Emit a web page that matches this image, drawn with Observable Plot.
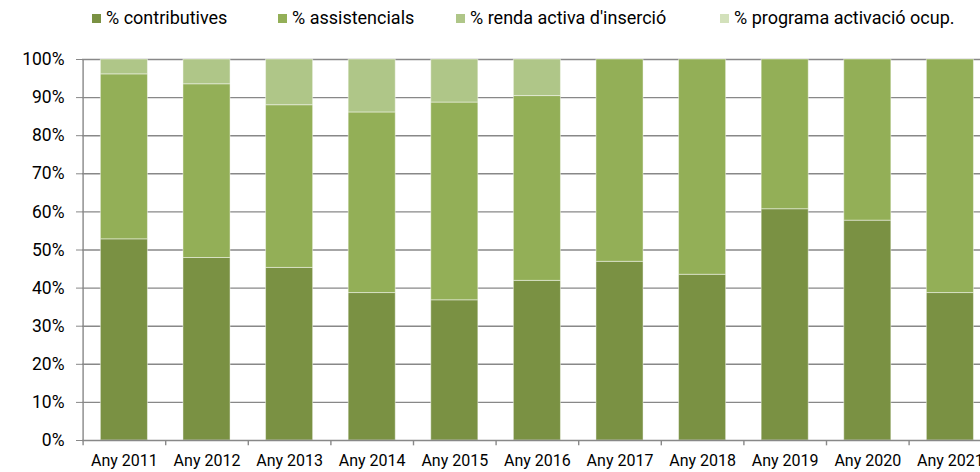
<!DOCTYPE html>
<html>
<head>
<meta charset="utf-8">
<script src="https://cdn.jsdelivr.net/npm/d3@7"></script>
<script src="https://cdn.jsdelivr.net/npm/@observablehq/plot@0.6"></script>
<style>
  html, body { margin: 0; padding: 0; background: #fff; overflow: hidden; }
  #wrap { position: relative; width: 980px; height: 472px; overflow: hidden; font-family: Roboto, sans-serif; }
  #legend { position: relative; height: 40px; }
  .lg-sw { position: absolute; width: 9px; height: 9px; top: 14px; }
  .lg-tx { position: absolute; top: 8px; font-size: 18px; line-height: 20px; color: #000; white-space: nowrap; }
  #chart svg { display: block; overflow: hidden; }
</style>
</head>
<body>
<div id="wrap">
  <div id="legend"></div>
  <div id="chart"></div>
</div>
<script>
const years = ["Any 2011","Any 2012","Any 2013","Any 2014","Any 2015","Any 2016","Any 2017","Any 2018","Any 2019","Any 2020","Any 2021"];
const seriesNames = ["% contributives", "% assistencials", "% renda activa d'inserció", "% programa activació ocup."];
const contributives = [52.8, 47.9, 45.3, 38.7, 36.8, 41.9, 46.9, 43.5, 60.7, 57.7, 38.7];
const assistencials = [43.3, 45.6, 42.7, 47.4, 51.9, 48.5, 53.1, 56.5, 39.3, 42.3, 61.3];
const rendaActiva   = [3.9, 6.5, 12.0, 13.9, 11.3, 9.6, 0, 0, 0, 0, 0];
const programaActivacio = [0, 0, 0, 0, 0, 0, 0, 0, 0, 0, 0];
const yTicks = [0, 10, 20, 30, 40, 50, 60, 70, 80, 90, 100];
const seriesColors = ["#7A9143", "#93AF57", "#AFC688", "#D3E1BB"];

const seriesValues = [contributives, assistencials, rendaActiva, programaActivacio];
const data = years.flatMap((yr, i) => seriesNames.map((s, j) => ({year: yr, series: s, value: seriesValues[j][i]})));

// legend (HTML, above the SVG)
const legendX = [92, 278, 456, 720];
const legend = document.getElementById("legend");
seriesNames.forEach((s, j) => {
  const sw = document.createElement("div");
  sw.className = "lg-sw"; sw.style.left = legendX[j] + "px"; sw.style.background = seriesColors[j];
  const tx = document.createElement("div");
  tx.className = "lg-tx"; tx.style.left = (legendX[j] + 14) + "px"; tx.textContent = s;
  legend.appendChild(sw); legend.appendChild(tx);
});

const step = (991.2 - 82.6) / years.length;
const gridColor = "#888888";

const chart = Plot.plot({
  width: 980,
  height: 432,
  marginTop: 19,
  marginBottom: 32,
  marginLeft: 82,
  marginRight: 0,
  style: {fontFamily: "Roboto, sans-serif", fontSize: "16px", color: "#000", background: "#fff", overflow: "hidden"},
  x: {domain: years, range: [82.6, 991.2], paddingInner: 0.43, paddingOuter: 0.215, round: false, label: null},
  y: {domain: [0, 100], label: null},
  color: {domain: seriesNames, range: seriesColors},
  marks: [
    Plot.ruleY(yTicks.filter(d => d > 0), {y: d => d, stroke: gridColor, strokeWidth: 1.4}),
    Plot.barY(data, {x: "year", y: "value", fill: "series", order: seriesNames, stroke: "#fff", strokeOpacity: 0.45, strokeWidth: 1}),
    Plot.ruleY([0], {stroke: gridColor, strokeWidth: 1.4}),
    Plot.ruleX([years[0]], {x: d => d, dx: -step / 2, y1: 0, y2: 100, stroke: gridColor, strokeWidth: 1.4}),
    Plot.ruleX(years, {x: d => d, dx: -step / 2, y1: 0, y2: -1.4, stroke: gridColor, strokeWidth: 1.4}),
    Plot.axisY({ticks: yTicks, tickSize: 6, tickPadding: 12, tickFormat: d => d + "%", stroke: gridColor, fontSize: 17.5}),
    Plot.axisX({tickSize: 0, tickPadding: 14, fontSize: 16})
  ]
});
document.getElementById("chart").appendChild(chart);
</script>
</body>
</html>
